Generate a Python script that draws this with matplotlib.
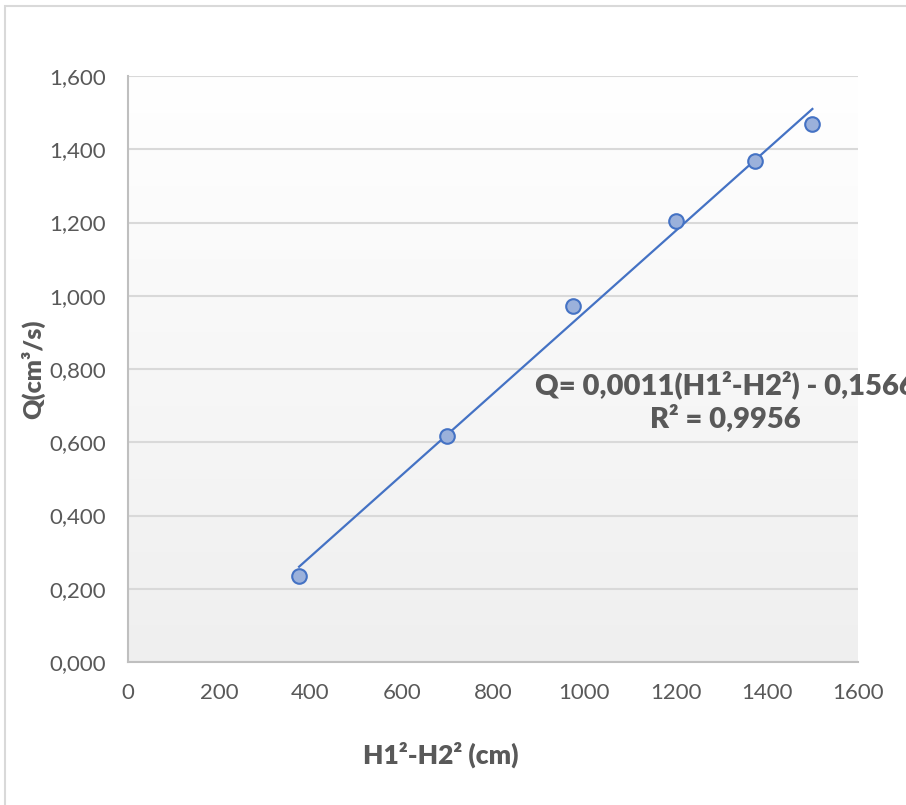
import numpy as np
import matplotlib.pyplot as plt
from matplotlib.patches import Rectangle

# diferença dos quadrados das cargas (cm) e vazão medida (cm³/s)
h_diff = [375, 700, 975, 1200, 1375, 1500]
vazao = [0.235, 0.617, 0.972, 1.204, 1.369, 1.469]

x_ticks = [0, 200, 400, 600, 800, 1000, 1200, 1400, 1600]
y_ticks = [0.0, 0.2, 0.4, 0.6, 0.8, 1.0, 1.2, 1.4, 1.6]

plt.rcParams['font.family'] = ['Lato', 'DejaVu Sans']
cinza = '#595959'
azul = '#4472C4'

fig = plt.figure(figsize=(9.06, 8.05), dpi=100)

# moldura da área do gráfico
fig.patches.append(Rectangle((5 / 906, -0.05), 1.2, 1 - 6 / 805 + 0.05,
                             transform=fig.transFigure, fill=False,
                             edgecolor='#D9D9D9', linewidth=1.5))

ax = fig.add_axes([128 / 906, 1 - 662 / 805, 730 / 906, 586 / 805])

# fundo em degradê (branco em cima, cinza claro embaixo)
grad = np.linspace(0, 1, 256).reshape(-1, 1)
ax.imshow(grad, extent=[0, 1, 0, 1], transform=ax.transAxes,
          cmap=plt.matplotlib.colors.LinearSegmentedColormap.from_list(
              'fundo', ['#FFFFFF', '#EFEFEF']),
          aspect='auto', zorder=0)

# ajuste linear
coef = np.polyfit(h_diff, vazao, 1)
xr = np.array([min(h_diff), max(h_diff)])
ax.plot(xr, np.polyval(coef, xr), color=azul, linewidth=1.6, zorder=3)

ax.plot(h_diff, vazao, 'o', markersize=10.5, markerfacecolor='#9BB1DB',
        markeredgecolor=azul, markeredgewidth=1.5, zorder=4)

ax.set_xlim(0, 1600)
ax.set_ylim(0, 1.6)
ax.set_xticks(x_ticks)
ax.set_yticks(y_ticks)
ax.set_xticklabels([str(v) for v in x_ticks])
ax.set_yticklabels([f'{v:.3f}'.replace('.', ',') if v < 1
                    else '1,' + f'{v:.3f}'[2:] for v in y_ticks])
ax.tick_params(length=0, labelsize=16, colors=cinza)
ax.tick_params(axis='y', pad=16)
ax.tick_params(axis='x', pad=15)

ax.grid(axis='y', color='#D9D9D9', linewidth=1.5, zorder=1)
ax.set_axisbelow(True)
for s in ['top', 'right']:
    ax.spines[s].set_visible(False)
for s in ['left', 'bottom']:
    ax.spines[s].set_color('#BFBFBF')
    ax.spines[s].set_linewidth(1.5)

fig.text(33 / 906, 1 - 369 / 805, 'Q(cm³/s)', rotation=90, ha='center',
         va='center', fontsize=18, fontweight='heavy', color=cinza)
fig.text(441 / 906, 1 - 755 / 805, 'H1²-H2² (cm)', ha='center',
         va='center', fontsize=19, fontweight='heavy', color=cinza)

# equação da reta de ajuste (passa da borda direita)
ax.text(1310, 0.711, 'Q= 0,0011(H1²-H2²) - 0,1566\nR² = 0,9956',
        ha='center', va='center', fontsize=21, fontweight='heavy',
        color=cinza, linespacing=1.22, clip_on=False, zorder=5)

fig.savefig('out.png', dpi=100)
